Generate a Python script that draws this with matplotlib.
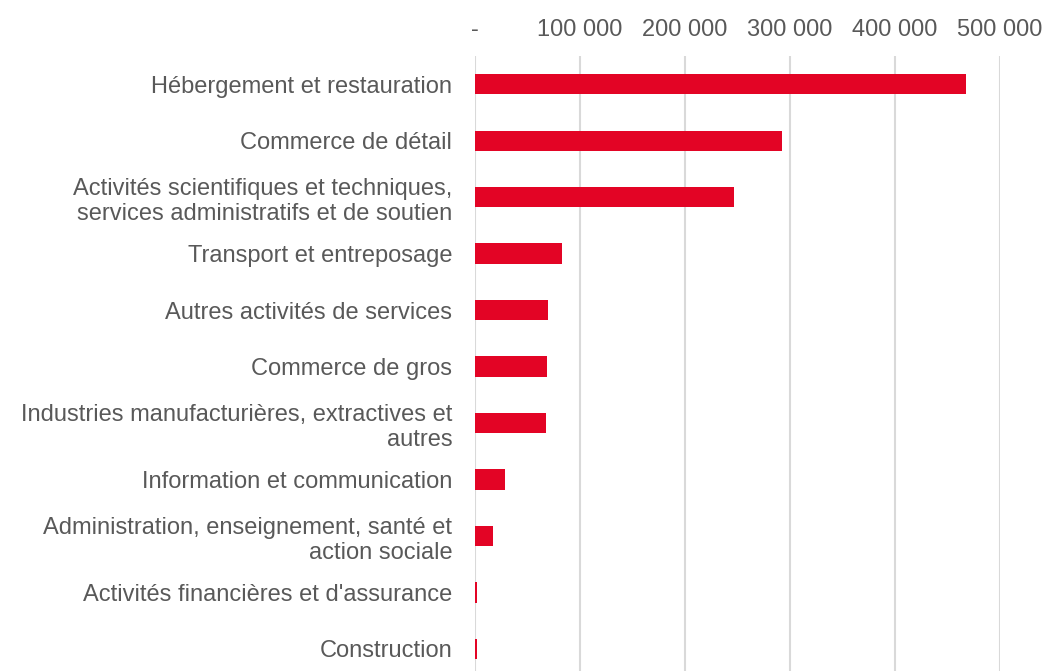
import matplotlib
matplotlib.use("Agg")
import matplotlib.pyplot as plt
from matplotlib.ticker import FuncFormatter

categories = [
    "Hébergement et restauration",
    "Commerce de détail",
    "Activités scientifiques et techniques,\nservices administratifs et de soutien",
    "Transport et entreposage",
    "Autres activités de services",
    "Commerce de gros",
    "Industries manufacturières, extractives et\nautres",
    "Information et communication",
    "Administration, enseignement, santé et\naction sociale",
    "Activités financières et d'assurance",
    "Construction",
]
values = [468000, 292600, 247200, 83400, 69700, 69100, 68500, 28700, 17200, 2800, 2800]
xticks = [0, 100000, 200000, 300000, 400000, 500000]

plt.rcParams['font.family'] = ['Liberation Sans', 'DejaVu Sans']

fig = plt.figure(figsize=(10.45, 6.71), dpi=100)
ax = fig.add_axes([474.5 / 1045, 0.0, (1000 - 474.5) / 1045, 1 - 56 / 671])

ypos = list(range(len(categories)))
ax.barh(ypos, values, height=0.36, color="#E30425", zorder=3)

ax.set_xlim(0, 500000)
ax.set_ylim(10.39, -0.5)
ax.set_yticks(ypos)
ax.set_yticklabels(categories, ha="right", ma="right", linespacing=1.2)
ax.set_xticks(xticks)

def fmt(v, pos):
    if v == 0:
        return "-"
    return f"{int(v):,}".replace(",", " ")

ax.xaxis.set_major_formatter(FuncFormatter(fmt))
ax.xaxis.tick_top()
ax.tick_params(axis="both", length=0, labelsize=17, colors="#595959")
ax.tick_params(axis="y", pad=16)
ax.tick_params(axis="x", pad=10.5)
ax.grid(axis="x", color="#D9D9D9", linewidth=1.5, zorder=0)
for s in ax.spines.values():
    s.set_visible(False)

fig.savefig("out.png", dpi=100)
